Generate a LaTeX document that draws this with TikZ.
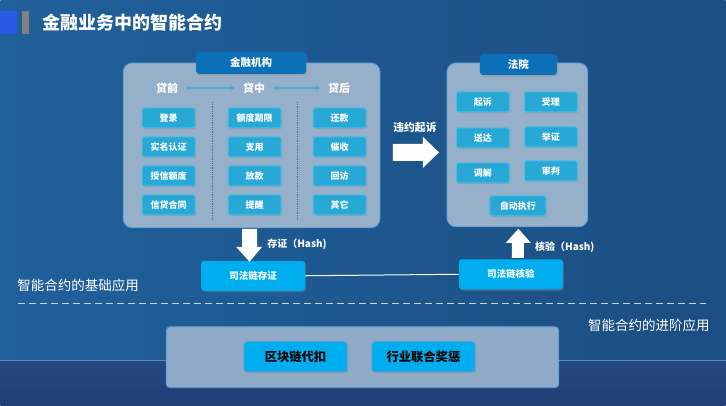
\documentclass[tikz,border=0pt]{standalone}
\usepackage{fontspec}
\setmainfont{Noto Sans CJK SC}
\usetikzlibrary{arrows.meta,shadows}

\newcommand\fsz[1]{\fontsize{#1}{#1}\selectfont}

\definecolor{bgleft}{RGB}{32,96,155}
\definecolor{bgright}{RGB}{27,78,130}
\definecolor{bglow}{RGB}{38,72,128}
\definecolor{bgbot}{RGB}{34,62,118}
\definecolor{bgline}{RGB}{85,140,195}
\definecolor{titleblue}{RGB}{40,90,230}
\definecolor{titlegray}{RGB}{128,128,128}
\definecolor{panelfill}{RGB}{150,176,202}
\definecolor{panelline}{RGB}{85,155,215}
\definecolor{headfill}{RGB}{12,112,185}
\definecolor{itemfill}{RGB}{40,168,214}
\definecolor{itemline}{RGB}{75,190,225}
\definecolor{chainfill}{RGB}{0,174,239}
\definecolor{tealc}{RGB}{85,172,198}
\definecolor{divc}{RGB}{70,110,160}
\definecolor{dashc}{RGB}{200,212,228}

\begin{document}
\begin{tikzpicture}[x=1pt,y=-1pt,
    panel/.style={draw=panelline, line width=0.8pt, fill=panelfill, rounded corners=9pt, inner sep=0pt},
    header/.style={fill=headfill, rounded corners=3pt, text=white, inner sep=0pt,
        font=\bfseries\fsz{10.5}, drop shadow={shadow xshift=1pt, shadow yshift=-1.5pt, opacity=0.35}},
    item/.style={draw=itemline, line width=1pt, fill=itemfill, rounded corners=2pt, text=white, inner sep=0pt,
        minimum width=53pt, minimum height=20pt, font=\bfseries\fsz{9},
        drop shadow={shadow xshift=1pt, shadow yshift=-1.2pt, opacity=0.35}},
    chain/.style={fill=chainfill, rounded corners=3pt, text=white, inner sep=0pt,
        minimum width=104pt, minimum height=30pt, font=\bfseries\fsz{9.5},
        drop shadow={shadow xshift=1pt, shadow yshift=-1.5pt, opacity=0.4}},
    bigbtn/.style={draw=panelline, line width=0.8pt, fill=chainfill, rounded corners=3pt, text=black, inner sep=0pt,
        minimum width=103pt, minimum height=30pt, font=\bfseries\fsz{12.3},
        drop shadow={shadow xshift=1pt, shadow yshift=-1.5pt, opacity=0.4}},
    stage/.style={text=white, font=\bfseries\fsz{11}, inner sep=0pt},
    label/.style={text=white, font=\bfseries\fsz{10}, inner sep=0pt},
    stagearrow/.style={{Latex[length=5pt,width=5.5pt]}-{Latex[length=5pt,width=5.5pt]}, tealc, line width=2.2pt},
]
    % background
    \shade[left color=bgleft, right color=bgright] (0,0) rectangle (726,361);
    \shade[top color=bglow, bottom color=bgbot] (0,361) rectangle (726,406);
    \draw[bgline, line width=0.6pt] (0,361) -- (726,361);

    % title
    \fill[titleblue] (0,11) rectangle (17,34);
    \fill[titlegray] (22,11) rectangle (29,34);
    \node[anchor=west, text=white, font=\bfseries\fsz{18}, inner sep=0pt] (title) at (42,23) {金融业务中的智能合约};

    % financial institution
    \node[panel, minimum width=257pt, minimum height=165pt] (bank) at (251.5,145.5) {};
    \node[header, minimum width=110pt, minimum height=22pt] (bankhead) at (251,63) {金融机构};
    \node[stage] (qian) at (167,88) {贷前};
    \node[stage] (zhong) at (254,88) {贷中};
    \node[stage] (hou) at (339,88) {贷后};
    \draw[stagearrow, shorten <=7pt, shorten >=7pt] (qian) -- (zhong);
    \draw[stagearrow, shorten <=7pt, shorten >=7pt] (zhong) -- (hou);
    \draw[divc, densely dotted, line width=0.8pt] (212,102) -- (212,220);
    \draw[divc, densely dotted, line width=0.8pt] (297,102) -- (297,220);

    \node[item] (denglu) at (168.5,118) {登录};
    \node[item] (shiming) at (168.5,147) {实名认证};
    \node[item] (shouxin) at (168.5,176) {授信额度};
    \node[item] (hetong) at (168.5,205) {信贷合同};
    \node[item] (qixian) at (254.5,118) {额度期限};
    \node[item] (zhiyong) at (254.5,147) {支用};
    \node[item] (fangkuan) at (254.5,176) {放款};
    \node[item] (tixing) at (254.5,205) {提醒};
    \node[item] (huankuan) at (339.5,118) {还款};
    \node[item] (cuishou) at (339.5,147) {催收};
    \node[item] (huifang) at (339.5,176) {回访};
    \node[item] (qita) at (339.5,205) {其它};

    % court
    \node[panel, minimum width=141pt, minimum height=164pt] (court) at (517.5,145) {};
    \node[header, minimum width=77pt, minimum height=21pt] (courthead) at (518.5,64.5) {法院};
    \node[item] (qisu) at (483,102) {起诉};
    \node[item] (shouli) at (551,102) {受理};
    \node[item] (songda) at (483,138) {送达};
    \node[item] (juzheng) at (551,137) {举证};
    \node[item] (tiaojie) at (483,173) {调解};
    \node[item] (shenpan) at (551,171) {审判};
    \node[item, minimum width=56pt] (zhixing) at (518,206) {自动执行};

    % breach -> court
    \node[label, font=\bfseries\fsz{10.8}] (weiyue) at (415,128) {违约起诉};
    \fill[white] (393,144) -- (423,144) -- (423,137) -- (439,152.5) -- (423,168) -- (423,161) -- (393,161) -- cycle;

    % judicial chain
    \node[chain] (cunzheng) at (253,276) {司法链存证};
    \node[chain] (heyan) at (511,274.5) {司法链核验};
    \draw[white, line width=1pt] (cunzheng.east) -- (heyan.west);
    \fill[white] (242,229) -- (257,229) -- (257,247) -- (262,247) -- (249.5,262) -- (236,247) -- (242,247) -- cycle;
    \node[label, anchor=west] (cunlabel) at (267,244) {存证（Hash)};
    \fill[white] (518.5,229) -- (531,243) -- (524,243) -- (524,258) -- (512,258) -- (512,243) -- (506,243) -- cycle;
    \node[label, anchor=west] (yanlabel) at (535,247) {核验（Hash)};

    % split
    \node[anchor=west, text=white, font=\fsz{13.5}, inner sep=0pt] (basic) at (17,286) {智能合约的基础应用};
    \draw[dashc, dashed, dash pattern=on 7pt off 4pt, line width=0.9pt] (18,304) -- (706,304);
    \node[anchor=east, text=white, font=\fsz{13.5}, inner sep=0pt] (advanced) at (710,326) {智能合约的进阶应用};

    % advanced applications
    \node[panel, rounded corners=4pt, minimum width=393pt, minimum height=61pt, fill=panelfill!94!bgright] (adv) at (362.5,357.5) {};
    \node[bigbtn] (daikou) at (295.5,357) {区块链代扣};
    \node[bigbtn] (jiangcheng) at (423.5,357) {行业联合奖惩};
\end{tikzpicture}
\end{document}
